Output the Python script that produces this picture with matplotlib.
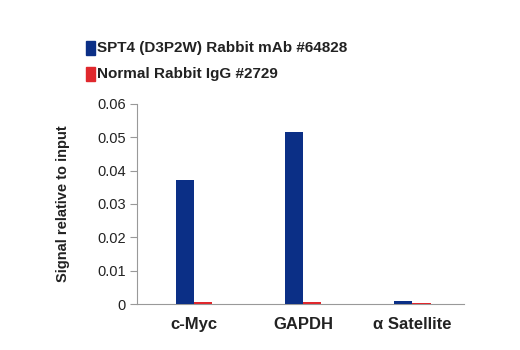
import numpy as np
import matplotlib
matplotlib.use('Agg')
import matplotlib.pyplot as plt

# fuente (no hay version condensada instalada).
plt.rcParams['font.family'] = ['Liberation Sans', 'DejaVu Sans']

# datos.
targets = ['c-Myc', 'GAPDH', '\u03b1 Satellite']
spt4 = [0.0372, 0.0516, 0.0010]
igg = [0.0005, 0.0006, 0.0004]
series = ['SPT4 (D3P2W) Rabbit mAb #64828', 'Normal Rabbit IgG #2729']
colors = ['#0b2f86', '#e0282d']

fig = plt.figure(figsize=(5.2, 3.5), dpi=100)
ax = fig.add_axes([0.2635, 0.1314, 0.6285, 0.5716])

x = np.arange(len(targets))
w = 0.165
ax.bar(x - w/2, spt4, width=w, color=colors[0], zorder=3)
ax.bar(x + w/2, igg, width=w, color=colors[1], zorder=3)

ax.set_xlim(-0.52, 2.47)
ax.set_ylim(0, 0.06)
ax.set_yticks([0, 0.01, 0.02, 0.03, 0.04, 0.05, 0.06])
ax.set_yticklabels(['0', '0.01', '0.02', '0.03', '0.04', '0.05', '0.06'], fontsize=10.5, color='#222222')
ax.set_xticks(x)
ax.set_xticklabels(targets, fontsize=12, fontweight='bold', color='#222222')
ax.tick_params(axis='x', length=0, pad=9)
ax.tick_params(axis='y', length=5, width=0.8, color='#999999', pad=3)

for s in ['top', 'right']:
    ax.spines[s].set_visible(False)
for s in ['left', 'bottom']:
    ax.spines[s].set_color('#999999')
    ax.spines[s].set_linewidth(0.8)

ax.set_ylabel('Signal relative to input', fontsize=10.5, fontweight='bold', color='#222222', labelpad=20)

# leyenda manual.
for i, (lab, c) in enumerate(zip(series, colors)):
    yy = 0.863 - i * 0.074
    fig.patches.append(plt.Rectangle((0.165, yy - 0.019), 0.018, 0.038, transform=fig.transFigure, color=c))
    fig.text(0.187, yy, lab, fontsize=11, fontweight='bold', color='#222222', va='center', ha='left')

plt.savefig('out.png', dpi=100)
